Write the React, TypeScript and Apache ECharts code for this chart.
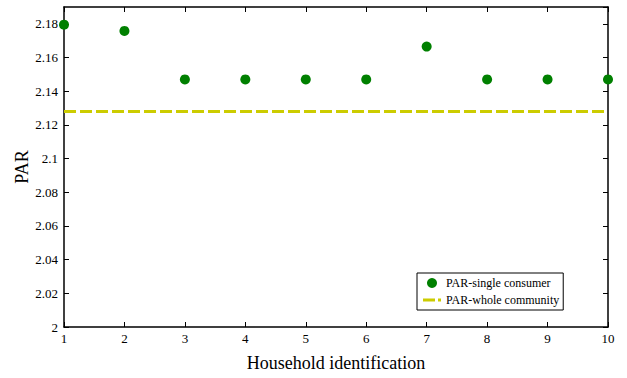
import React, { useEffect, useRef } from "react";
import * as echarts from "echarts";

const households = [1, 2, 3, 4, 5, 6, 7, 8, 9, 10];
const parSingle = [2.1795, 2.1758, 2.147, 2.147, 2.147, 2.147, 2.1665, 2.147, 2.147, 2.147];
const parWhole = 2.128;
const yTickLabels = ["2", "2.02", "2.04", "2.06", "2.08", "2.1", "2.12", "2.14", "2.16", "2.18"];

const FONT = "'Liberation Serif', 'Times New Roman', serif";

export default function App() {
  const ref = useRef<HTMLDivElement>(null);
  useEffect(() => {
    if (!ref.current) return;
    const chart = echarts.init(ref.current, undefined, { renderer: "svg" });
    const fmtY = (v: number) => {
      const idx = Math.round((v - 2) / 0.02);
      return Math.abs(v - (2 + idx * 0.02)) < 1e-6 && yTickLabels[idx] ? yTickLabels[idx] : "";
    };
    const xCommon = {
      type: "value" as const,
      min: 1,
      max: 10,
      interval: 1,
      splitLine: { show: false },
      axisLine: { show: true, lineStyle: { color: "#000", width: 1.5 } },
      axisTick: { show: true, inside: true, length: 5, lineStyle: { color: "#000" } },
    };
    const yCommon = {
      type: "value" as const,
      min: 2,
      max: 2.19,
      interval: 0.02,
      splitLine: { show: false },
      axisLine: { show: true, lineStyle: { color: "#000", width: 1.5 } },
      axisTick: { show: true, inside: true, length: 5, lineStyle: { color: "#000" } },
    };
    chart.setOption({
      animation: false,
      backgroundColor: "#fff",
      grid: {
        left: 64,
        right: 19,
        top: 7,
        bottom: 51,
        containLabel: false,
        outerBoundsMode: "none",
      },
      xAxis: [
        {
          ...xCommon,
          position: "bottom",
          name: "Household identification",
          nameLocation: "middle",
          nameMoveOverlap: false,
          nameGap: 27,
          nameTextStyle: { fontFamily: FONT, fontSize: 18, color: "#000" },
          axisLabel: { fontFamily: FONT, fontSize: 13, color: "#000", margin: 5 },
        },
        { ...xCommon, position: "top", axisLabel: { show: false } },
      ],
      yAxis: [
        {
          ...yCommon,
          position: "left",
          name: "PAR",
          nameLocation: "middle",
          nameMoveOverlap: false,
          nameGap: 33,
          nameTextStyle: { fontFamily: FONT, fontSize: 18, color: "#000" },
          axisLabel: {
            fontFamily: FONT,
            fontSize: 13,
            color: "#000",
            margin: 6,
            showMaxLabel: false,
            formatter: fmtY,
          },
        },
        { ...yCommon, position: "right", axisLabel: { show: false } },
      ],
      legend: {
        left: 417,
        top: 273,
        orient: "vertical",
        backgroundColor: "#fff",
        borderColor: "#000",
        borderWidth: 1,
        padding: [4, 4, 4, 6],
        itemGap: 5,
        itemWidth: 18,
        itemHeight: 10,
        textStyle: { fontFamily: FONT, fontSize: 12, color: "#000" },
        data: [
          { name: "PAR-single consumer", icon: "circle", itemStyle: { color: "#008000" } },
          {
            name: "PAR-whole community",
            icon: "path://M0,0 L12,0 L12,3 L0,3 Z M15,0 L18,0 L18,3 L15,3 Z",
            itemStyle: { color: "#cccc00" },
          },
        ],
      },
      series: [
        {
          name: "PAR-whole community",
          type: "line",
          data: [
            [households[0], parWhole],
            [households[households.length - 1], parWhole],
          ],
          symbol: "none",
          lineStyle: { color: "#cccc00", width: 3, type: [12, 4] },
          itemStyle: { color: "#cccc00" },
          z: 2,
        },
        {
          name: "PAR-single consumer",
          type: "scatter",
          data: households.map((h, i) => [h, parSingle[i]]),
          symbol: "circle",
          symbolSize: 10,
          itemStyle: { color: "#008000", opacity: 1 },
          z: 3,
        },
      ],
    });
    return () => chart.dispose();
  }, []);
  return <div ref={ref} style={{ width: 627, height: 378, position: "absolute", left: 0, top: 0 }} />;
}
